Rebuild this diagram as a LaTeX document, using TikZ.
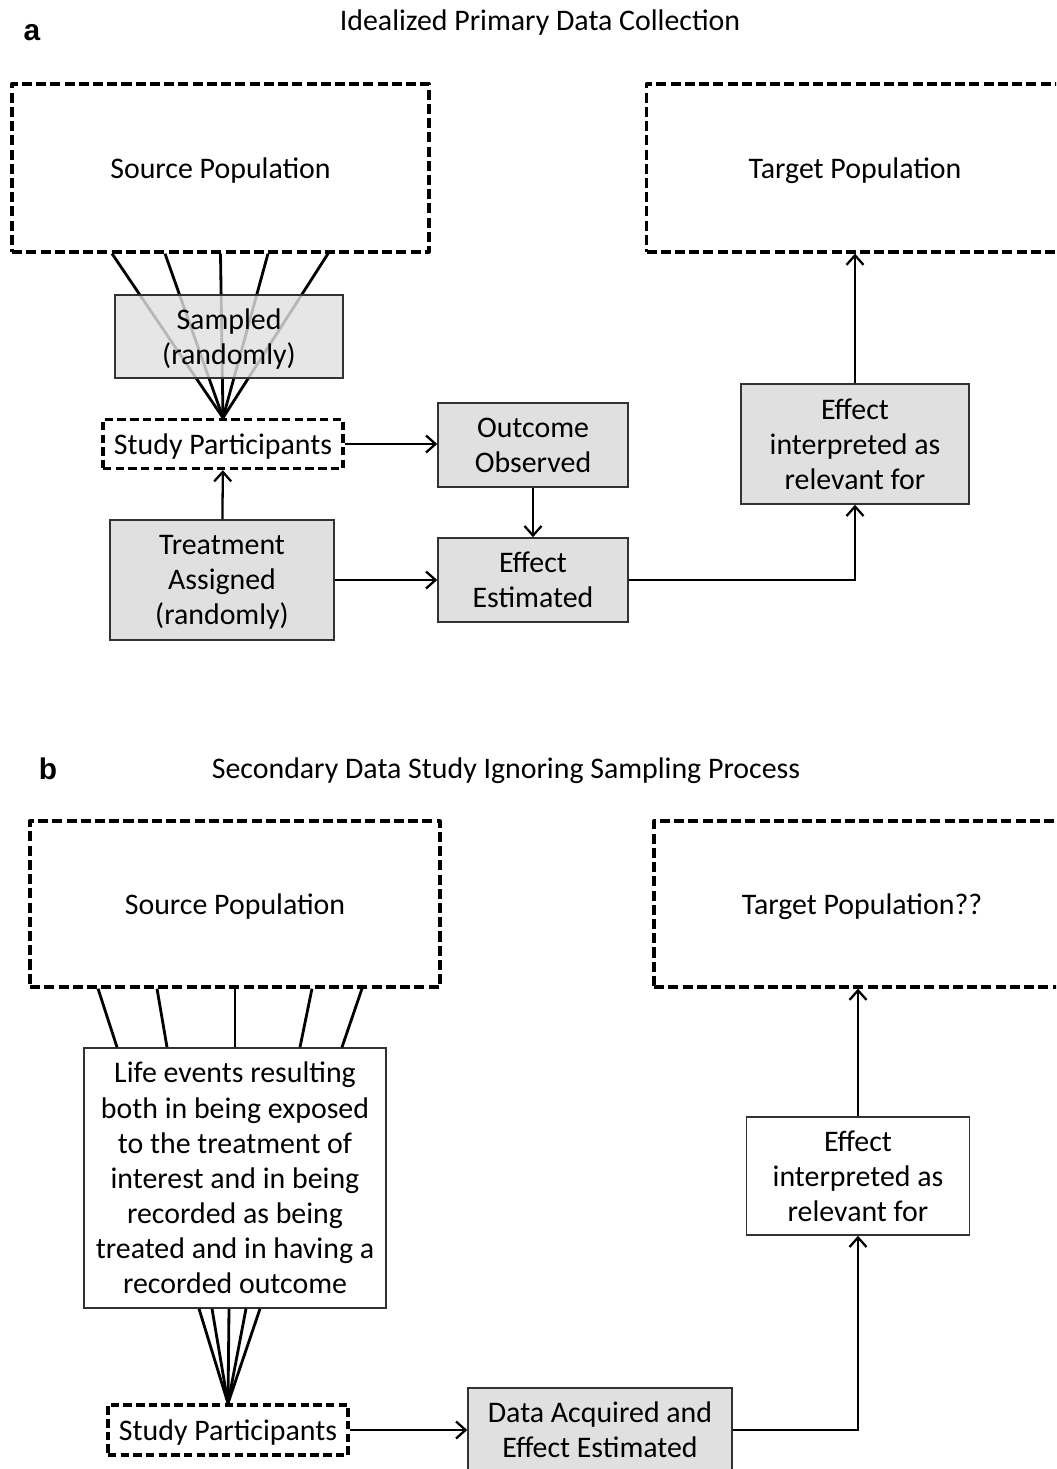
\documentclass[tikz,border=0pt]{standalone}
\usepackage{fontspec}
\setmainfont{Carlito}
\newfontfamily\panelfont{Liberation Sans}
\usetikzlibrary{arrows.meta, calc, positioning}
\definecolor{boxGray}{RGB}{224,224,224}
\definecolor{edgeGray}{RGB}{50,50,50}
\tikzset{
  popbox/.style={rectangle, draw=black, line width=1.9pt, line join=round, dash pattern=on 5.7pt off 2.4pt, minimum width=8.34cm, minimum height=3.36cm, inner sep=0pt, align=center, text depth=0pt},
  partbox/.style={rectangle, draw=black, line width=1.9pt, line join=round, dash pattern=on 4.8pt off 2.4pt, minimum width=4.8cm, minimum height=0.98cm, inner sep=0pt, align=center, text depth=0pt},
  process/.style={rectangle, draw=edgeGray, line width=0.9pt, fill=boxGray, inner sep=0pt, align=center, text depth=0pt},
  plainbox/.style={rectangle, draw=edgeGray, line width=0.9pt, fill=white, inner sep=0pt, align=center, text depth=0pt},
  arrow/.style={line width=1.3pt, -{Straight Barb[length=1.9mm, width=3.4mm]}},
  fan/.style={line width=1.6pt},
  panel/.style={font=\panelfont\bfseries\fontsize{17}{20}\selectfont},
}

\begin{document}
\begin{tikzpicture}[x=0.02cm, y=-0.02cm, font=\fontsize{17}{20}\selectfont]
    \useasboundingbox (0,0) rectangle (1056,1469);
    \clip (0,0) rectangle (1056,1469);

    % Panel a: idealized primary data collection
    \node[panel] (labA) at (32,33) {a};
    \node (titleA) at (540,23) {Idealized Primary Data Collection};

    \node[popbox] (srcA) at (220.5,168) {Source Population};
    \node[popbox] (tgtA) at (855,168) {Target Population};
    \node[partbox] (studyA) at (223,444) {Study Participants};

    % sampling lines from the source population
    \foreach \dx in {-2.17,-1.11,0,0.95,2.15}
        \draw[fan] ([xshift=\dx cm]srcA.south) -- (studyA.north);

    \node[process, fill opacity=0.82, text opacity=1, minimum width=4.56cm, minimum height=1.66cm] (sampled) at (229,336.5) {Sampled\\(randomly)};
    \node[process, minimum width=3.8cm, minimum height=1.68cm] (outcome) at (533,445) {Outcome\\Observed};
    \node[process, minimum width=3.8cm, minimum height=1.68cm] (effA) at (533,580) {Effect\\Estimated};
    \node[process, minimum width=4.48cm, minimum height=2.4cm] (treat) at (222,580) {Treatment\\Assigned\\(randomly)};
    \node[process, minimum width=4.56cm, minimum height=2.4cm] (interpA) at (855,444) {Effect\\interpreted as\\relevant for};

    \draw[arrow] (studyA.east) -- (studyA.east -| outcome.west);
    \draw[arrow] (outcome) -- (effA);
    \draw[arrow] (treat) -- (studyA);
    \draw[arrow] (treat) -- (effA);
    \draw[arrow] (effA.east) -| (interpA.south);
    \draw[arrow] (interpA) -- (tgtA);

    % Panel b: secondary data study
    \node[panel] (labB) at (48,769) {b};
    \node (titleB) at (506,771) {Secondary Data Study Ignoring Sampling Process};

    \node[popbox, minimum width=8.2cm, minimum height=3.32cm] (srcB) at (235,904) {Source Population};
    \node[popbox, minimum width=8.32cm, minimum height=3.32cm] (tgtB) at (862,904) {Target Population??};
    \node[plainbox, minimum width=6.04cm, minimum height=5.2cm] (life) at (235,1178) {Life events resulting\\both in being exposed\\to the treatment of\\interest and in being\\recorded as being\\treated and in having a\\recorded outcome};
    \node[partbox, minimum height=1.0cm] (studyB) at (228,1430) {Study Participants};
    \node[process, minimum width=5.28cm, minimum height=1.68cm] (dataB) at (600,1430) {Data Acquired and\\Effect Estimated};
    \node[plainbox, minimum width=4.46cm, minimum height=2.36cm] (interpB) at (858,1176) {Effect\\interpreted as\\relevant for};

    % life events lines
    \foreach \dx/\dy in {-2.74/-2.36,-1.56/-1.36,0/0,1.54/1.3,2.54/2.14}
        \draw[fan] ([xshift=\dx cm]srcB.south) -- ([xshift=\dy cm]life.north);
    \foreach \dx in {-0.72,-0.46,-0.12,0.22,0.5}
        \draw[fan] ([xshift=\dx cm]life.south) -- (studyB.north);

    \draw[arrow] (studyB.east) -- (studyB.east -| dataB.west);
    \draw[arrow] (dataB.east) -| (interpB.south);
    \draw[arrow] (interpB.north) -- (interpB.north |- tgtB.south);
\end{tikzpicture}
\end{document}
